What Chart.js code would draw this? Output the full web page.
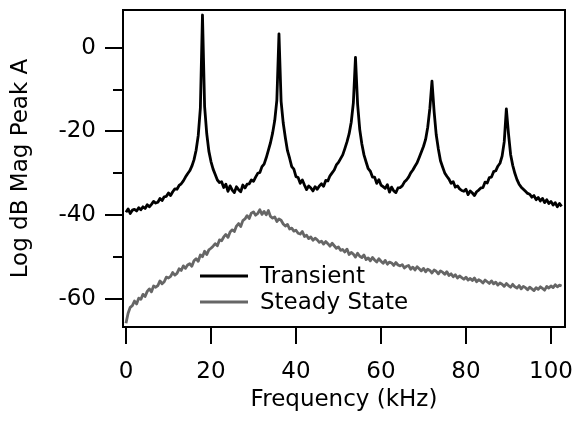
<!DOCTYPE html>
<html>
<head>
<meta charset="utf-8">
<script src="https://cdn.jsdelivr.net/npm/chart.js@4"></script>
<style>
  html, body { margin: 0; padding: 0; background: #fff; }
  canvas { display: block; }
</style>
</head>
<body>
<canvas id="c" width="576" height="421"></canvas>
<script>
// Frequency (kHz), 0.5 kHz spacing
const freq = [
  0,0.5,1,1.5,2,2.5,3,3.5,4,4.5, 5,5.5,6,6.5,7,7.5,8,8.5,9,9.5,
  10,10.5,11,11.5,12,12.5,13,13.5,14,14.5, 15,15.5,16,16.5,17,17.5,18,18.5,19,19.5,
  20,20.5,21,21.5,22,22.5,23,23.5,24,24.5, 25,25.5,26,26.5,27,27.5,28,28.5,29,29.5,
  30,30.5,31,31.5,32,32.5,33,33.5,34,34.5, 35,35.5,36,36.5,37,37.5,38,38.5,39,39.5,
  40,40.5,41,41.5,42,42.5,43,43.5,44,44.5, 45,45.5,46,46.5,47,47.5,48,48.5,49,49.5,
  50,50.5,51,51.5,52,52.5,53,53.5,54,54.5, 55,55.5,56,56.5,57,57.5,58,58.5,59,59.5,
  60,60.5,61,61.5,62,62.5,63,63.5,64,64.5, 65,65.5,66,66.5,67,67.5,68,68.5,69,69.5,
  70,70.5,71,71.5,72,72.5,73,73.5,74,74.5, 75,75.5,76,76.5,77,77.5,78,78.5,79,79.5,
  80,80.5,81,81.5,82,82.5,83,83.5,84,84.5, 85,85.5,86,86.5,87,87.5,88,88.5,89,89.5,
  90,90.5,91,91.5,92,92.5,93,93.5,94,94.5, 95,95.5,96,96.5,97,97.5,98,98.5,99,99.5,
  100,100.5,101,101.5,102,102.5
];

// Log dB Mag Peak A — Transient
const transient = [
  -39.3,-38.5,-39.6,-38.8,-38.6,-39.0,-38.2,-38.7,-38.0,-38.4,
  -37.5,-38.0,-37.4,-36.7,-37.1,-36.9,-36.0,-36.5,-35.6,-35.5,
  -34.7,-35.3,-34.4,-33.7,-33.8,-32.9,-32.5,-31.8,-30.9,-30.1,
  -29.4,-28.3,-26.8,-24.5,-21.0,-14.5,7.8,-14.0,-20.5,-24.7,
  -27.2,-29.0,-30.3,-31.6,-32.2,-32.0,-33.4,-32.6,-34.3,-33.0,
  -34.0,-34.6,-33.2,-33.9,-34.4,-32.8,-33.5,-32.6,-32.5,-31.6,
  -31.9,-30.9,-30.0,-29.8,-28.4,-27.8,-26.3,-24.5,-22.7,-20.4,
  -17.4,-12.5,3.3,-12.8,-18.0,-21.5,-24.6,-26.4,-28.4,-29.0,
  -30.8,-31.0,-32.4,-31.6,-32.8,-33.9,-33.0,-33.5,-34.2,-33.2,
  -33.8,-33.0,-32.5,-33.1,-31.7,-31.8,-30.6,-29.9,-29.2,-28.0,
  -27.4,-26.5,-25.6,-24.1,-22.5,-20.6,-17.8,-13.2,-2.3,-13.5,
  -19.5,-23.0,-25.6,-27.3,-28.9,-29.5,-30.9,-30.9,-32.4,-31.5,
  -32.8,-33.2,-33.6,-32.7,-34.5,-33.3,-34.2,-34.6,-33.5,-33.4,
  -33.0,-32.1,-31.6,-30.9,-29.9,-29.2,-28.3,-27.5,-26.2,-24.9,
  -23.6,-21.9,-19.0,-14.5,-8.0,-15.2,-20.8,-24.2,-27.0,-28.5,
  -29.9,-30.7,-31.4,-32.4,-32.0,-33.3,-33.0,-33.7,-34.1,-34.3,
  -33.8,-35.1,-34.2,-34.7,-35.3,-34.4,-34.0,-33.5,-33.4,-32.1,
  -32.3,-31.0,-30.9,-29.6,-29.4,-28.3,-27.6,-25.9,-22.5,-14.6,
  -20.5,-25.5,-28.1,-30.0,-31.5,-32.6,-33.3,-33.8,-34.3,-34.8,
  -35.0,-35.7,-35.3,-36.3,-35.8,-36.6,-36.0,-37.0,-36.3,-37.2,
  -36.7,-37.6,-37.0,-38.0,-37.2,-37.9
];

// Log dB Mag Peak A — Steady State
const steady = [
  -65.8,-63.4,-62.0,-61.6,-60.5,-61.2,-59.8,-60.1,-58.9,-59.4,
  -58.2,-57.6,-58.3,-56.9,-57.2,-56.8,-55.7,-56.4,-55.9,-54.8,
  -55.0,-54.6,-53.7,-54.3,-53.9,-52.8,-53.2,-52.1,-52.7,-51.9,
  -51.6,-52.2,-50.9,-50.4,-51.0,-49.5,-49.9,-48.6,-49.4,-48.3,
  -47.9,-47.4,-46.8,-47.3,-45.9,-46.1,-45.2,-44.6,-45.3,-44.0,
  -43.5,-43.9,-42.6,-42.0,-42.7,-41.3,-40.9,-40.1,-40.8,-39.5,
  -39.2,-40.0,-39.6,-38.7,-39.8,-39.1,-39.9,-38.9,-40.3,-40.7,
  -40.4,-41.5,-40.9,-41.2,-42.1,-42.6,-42.2,-43.3,-43.1,-43.8,
  -43.6,-44.3,-44.5,-43.9,-45.1,-44.8,-45.6,-45.2,-46.0,-45.5,
  -45.9,-46.5,-46.2,-46.9,-46.3,-46.8,-47.4,-46.7,-47.3,-47.9,
  -47.6,-48.4,-48.2,-48.8,-48.1,-49.4,-48.9,-49.3,-50.0,-49.1,
  -49.8,-50.1,-49.5,-50.6,-50.2,-50.9,-50.1,-50.7,-51.2,-50.4,
  -51.0,-51.5,-50.8,-51.7,-51.2,-51.4,-52.0,-51.3,-51.9,-52.1,
  -51.8,-52.6,-52.2,-52.0,-52.9,-52.4,-53.1,-52.3,-52.8,-53.3,
  -52.7,-53.5,-52.9,-53.2,-53.8,-53.1,-53.4,-54.0,-53.3,-53.6,
  -54.1,-53.5,-54.4,-54.0,-54.7,-54.2,-55.0,-54.5,-54.9,-55.3,
  -54.8,-55.5,-55.1,-55.6,-55.0,-55.9,-55.4,-55.7,-56.2,-55.5,
  -55.9,-56.3,-55.7,-56.4,-56.0,-56.7,-56.2,-56.5,-57.0,-56.3,
  -56.8,-57.2,-56.5,-57.1,-57.4,-56.8,-57.6,-57.0,-57.3,-57.8,
  -57.2,-57.6,-58.0,-57.3,-57.7,-57.1,-57.5,-57.9,-57.0,-57.4,
  -56.9,-57.3,-56.6,-57.1,-56.7,-56.9
];

const seriesLabels = ['Transient', 'Steady State'];
const xTickValues = [0, 20, 40, 60, 80, 100];
const yTickValues = [-60, -40, -20, 0];
const yMinorTickValues = [-50, -30, -10];

const FONT = 'DejaVu Sans';

const framePlugin = {
  id: 'frameAndLegend',
  afterDatasetsDraw(chart) {
    const { ctx, chartArea: a, scales } = chart;
    const y = scales.y;
    ctx.save();
    ctx.strokeStyle = '#000';
    ctx.lineWidth = 2;
    ctx.strokeRect(a.left, a.top, a.right - a.left, a.bottom - a.top);
    // minor y ticks
    yMinorTickValues.forEach(v => {
      const py = Math.round(y.getPixelForValue(v));
      ctx.beginPath();
      ctx.moveTo(a.left - 10, py);
      ctx.lineTo(a.left, py);
      ctx.stroke();
    });
    // legend inside plot
    const lx = a.left + 77, ly = a.top + 266, row = 26;
    ctx.font = '23px "' + FONT + '"';
    ctx.textBaseline = 'middle';
    ctx.textAlign = 'left';
    chart.data.datasets.forEach((ds, i) => {
      const yy = ly + i * row;
      ctx.strokeStyle = ds.borderColor;
      ctx.lineWidth = ds.borderWidth;
      ctx.beginPath();
      ctx.moveTo(lx, yy);
      ctx.lineTo(lx + 48, yy);
      ctx.stroke();
      ctx.fillStyle = '#000';
      ctx.fillText(ds.label, lx + 60, yy + 1);
    });
    ctx.restore();
  }
};

new Chart(document.getElementById('c'), {
  type: 'line',
  data: {
    datasets: [
      {
        label: seriesLabels[0],
        data: freq.map((f, i) => ({ x: f, y: transient[i] })),
        borderColor: '#000000',
        borderWidth: 2.8,
        pointRadius: 0,
        tension: 0,
        borderJoinStyle: 'round'
      },
      {
        label: seriesLabels[1],
        data: freq.map((f, i) => ({ x: f, y: steady[i] })),
        borderColor: '#666666',
        borderWidth: 2.8,
        pointRadius: 0,
        tension: 0,
        borderJoinStyle: 'round'
      }
    ]
  },
  options: {
    responsive: false,
    animation: false,
    layout: { padding: { top: 10, right: 11, left: 0, bottom: 0 } },
    plugins: { legend: { display: false }, tooltip: { enabled: false } },
    scales: {
      x: {
        type: 'linear',
        min: -0.7,
        max: 103.3,
        afterBuildTicks: s => { s.ticks = xTickValues.map(v => ({ value: v })); },
        afterFit: s => { s.height = 94; s.paddingLeft = 0; s.paddingRight = 0; },
        ticks: {
          color: '#000',
          font: { family: FONT, size: 23 },
          padding: 14,
          maxRotation: 0,
          autoSkip: false
        },
        grid: { drawOnChartArea: false, drawTicks: true, tickLength: 17, lineWidth: 2, tickWidth: 2, tickColor: '#000', color: '#000' },
        border: { display: false },
        title: {
          display: true,
          text: 'Frequency (kHz)',
          color: '#000',
          font: { family: FONT, size: 23 },
          padding: { top: 0, bottom: 7 }
        }
      },
      y: {
        type: 'linear',
        min: -66.7,
        max: 9,
        afterBuildTicks: s => { s.ticks = yTickValues.map(v => ({ value: v })); },
        afterFit: s => { s.width = 123; s.paddingTop = 0; s.paddingBottom = 0; },
        ticks: {
          color: '#000',
          font: { family: FONT, size: 23 },
          padding: 9,
          autoSkip: false
        },
        grid: { drawOnChartArea: false, drawTicks: true, tickLength: 18, lineWidth: 2, tickWidth: 2, tickColor: '#000', color: '#000' },
        border: { display: false },
        title: {
          display: true,
          text: 'Log dB Mag Peak A',
          color: '#000',
          font: { family: FONT, size: 23 },
          padding: { top: 7, bottom: 0 }
        }
      }
    }
  },
  plugins: [framePlugin]
});
</script>
</body>
</html>
